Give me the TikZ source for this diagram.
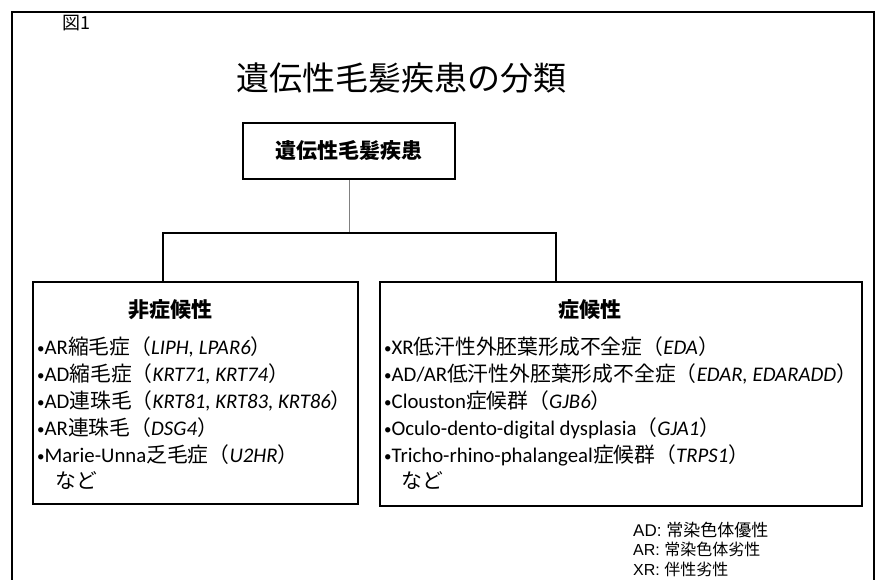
\documentclass[tikz,border=0pt]{standalone}
\usepackage{fontspec}
\setmainfont{Carlito}
\newfontfamily\jp{Noto Sans CJK JP}
\newfontfamily\arialf{Liberation Sans}
\newcommand\J[1]{{\jp #1}}
\newcommand\G[1]{\textit{#1}}
\newcommand\bul{\raisebox{0.5pt}{\fontsize{15}{16}\selectfont•}}
\tikzset{
  box/.style={draw, line width=2.4pt, inner sep=0pt},
  item/.style={anchor=base west, inner sep=0pt, font=\fontsize{20.8}{22}\selectfont},
  head/.style={anchor=center, inner sep=0pt, font=\fontsize{21}{24}\selectfont\jp\bfseries},
  leg/.style={anchor=base west, inner sep=0pt},
  conn/.style={line width=1.4pt},
}
\begin{document}
\begin{tikzpicture}[x=1pt,y=-1pt]
\useasboundingbox (0,0) rectangle (880,580);
\draw[line width=1.2pt] (12,580) -- (12,12) -- (874,12) -- (874,580);
\node[inner sep=0pt, font=\fontsize{18}{20}\selectfont\jp] (fig) at (76,23) {図1};
\node[inner sep=0pt, font=\fontsize{33}{36}\selectfont\jp] (title) at (401,78) {遺伝性毛髪疾患の分類};
\node[box, minimum width=212pt, minimum height=56pt, font=\fontsize{21}{24}\selectfont\jp\bfseries] (top) at (349,151) {遺伝性毛髪疾患};
\node[box, minimum width=325pt, minimum height=222pt] (lbox) at (195.5,393) {};
\node[box, minimum width=482pt, minimum height=224pt] (rbox) at (621,394) {};
\coordinate (L) at (163,233);
\coordinate (R) at (556,233);
\draw[gray, line width=0.9pt] (top.south) -- (top.south |- L);
\draw[conn] (lbox.north -| L) -- (L) -- (R) -- (rbox.north -| R);
% left
\node[head] (lh) at (170,310) {非症候性};
\node[item] (l1) at (37,354) {\bul AR\J{縮毛症（}\G{LIPH, LPAR6}\J{）}};
\node[item] (l2) at (37,381) {\bul AD\J{縮毛症（}\G{KRT71, KRT74}\J{）}};
\node[item] (l3) at (37,408) {\bul AD\J{連珠毛（}\G{KRT81, KRT83, KRT86}\J{）}};
\node[item] (l4) at (37,435) {\bul AR\J{連珠毛（}\G{DSG4}\J{）}};
\node[item] (l5) at (37,462) {\bul Marie-Unna\J{乏毛症（}\G{U2HR}\J{）}};
\node[item] (l6) at (55,488) {\J{など}};
% right
\node[head] (rh) at (590,310) {症候性};
\node[item] (r1) at (384,354) {\bul XR\J{低汗性外胚葉形成不全症（}\G{EDA}\J{）}};
\node[item] (r2) at (384,381) {\bul AD/AR\J{低汗性外胚葉形成不全症（}\G{EDAR, EDARADD}\J{）}};
\node[item] (r3) at (384,408) {\bul Clouston\J{症候群（}\G{GJB6}\J{）}};
\node[item] (r4) at (384,435) {\bul Oculo-dento-digital dysplasia\J{（}\G{GJA1}\J{）}};
\node[item] (r5) at (384,462) {\bul Tricho-rhino-phalangeal\J{症候群（}\G{TRPS1}\J{）}};
\node[item] (r6) at (401,488) {\J{など}};
% legend
\node[leg, font=\fontsize{17}{19}\selectfont] (g1) at (633,536) {\arialf AD: \J{常染色体優性}};
\node[leg, font=\fontsize{16}{18}\selectfont] (g2) at (633,555) {\arialf AR: \J{常染色体劣性}};
\node[leg, font=\fontsize{16}{18}\selectfont] (g3) at (633,575) {\arialf XR: \J{伴性劣性}};
\end{tikzpicture}
\end{document}
